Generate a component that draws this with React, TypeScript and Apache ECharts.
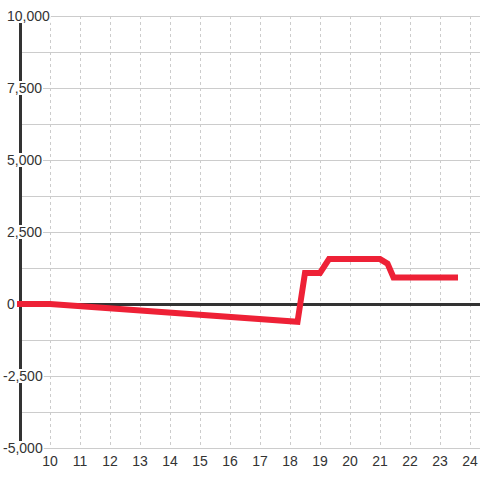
import React, { useEffect, useRef } from "react";
import * as echarts from "echarts";

const xValues = [9, 10, 18.25, 18.5, 19.0, 19.3, 21.0, 21.25, 21.45, 23.5];
const yValues = [0, 0, -620, 1080, 1080, 1560, 1560, 1400, 920, 920];
const yTickValues = [-5000, -2500, 0, 2500, 5000, 7500, 10000];
const xTickValues = [10, 11, 12, 13, 14, 15, 16, 17, 18, 19, 20, 21, 22, 23, 24];

const FONT = "'Liberation Sans', Arial, sans-serif";
const GRID = "#cccccc";
const DARK = "#333333";
const RED = "#ee2136";

const fmt = (v: number) => v.toLocaleString("en-US");

export default function App() {
  const ref = useRef<HTMLDivElement>(null);
  useEffect(() => {
    if (!ref.current) return;
    const chart = echarts.init(ref.current, null, { renderer: "svg" });
    const data = xValues.map((x, i) => [x, yValues[i]]);
    const xMin = 9;
    const xMax = 24 + 1 / 3;
    chart.setOption({
      animation: false,
      backgroundColor: "#ffffff",
      grid: { left: 20, right: 0, top: 16, bottom: 32, containLabel: false, outerBoundsMode: "none" },
      xAxis: [
        {
          type: "value",
          min: xMin,
          max: xMax,
          interval: 1,
          position: "bottom",
          axisLine: { show: false, onZero: false },
          axisTick: { show: false },
          axisLabel: {
            show: true,
            margin: 6,
            color: DARK,
            fontSize: 14,
            fontFamily: FONT,
            showMinLabel: false,
            showMaxLabel: false,
            formatter: (v: number) => (xTickValues.includes(v) ? String(v) : ""),
          },
          splitLine: {
            show: true,
            showMinLine: false,
            showMaxLine: false,
            lineStyle: { color: GRID, width: 1, type: [3, 3] },
          },
        },
        {
          type: "value",
          min: xMin,
          max: xMax,
          interval: 1,
          position: "bottom",
          axisLine: { show: true, onZero: true, lineStyle: { color: DARK, width: 3 } },
          axisTick: { show: false },
          axisLabel: { show: false },
          splitLine: { show: false },
        },
      ],
      yAxis: [
        {
          type: "value",
          min: -5000,
          max: 10000,
          interval: 1250,
          position: "left",
          axisLine: { show: true, onZero: false, lineStyle: { color: DARK, width: 3 } },
          axisTick: { show: false },
          axisLabel: {
            show: true,
            align: "left",
            margin: 13,
            color: DARK,
            fontSize: 14,
            fontFamily: FONT,
            backgroundColor: "#ffffff",
            padding: [0, 1, 0, 0],
            showMinLabel: true,
            showMaxLabel: true,
            formatter: (v: number) => (yTickValues.includes(v) && v >= 0 ? fmt(v) : ""),
          },
          splitLine: { show: true, lineStyle: { color: GRID, width: 1, type: "solid" } },
        },
        {
          type: "value",
          min: -5000,
          max: 10000,
          interval: 1250,
          position: "left",
          z: 1,
          axisLine: { show: false, onZero: false },
          axisTick: { show: false },
          axisLabel: {
            show: true,
            align: "left",
            margin: 17,
            color: DARK,
            fontSize: 14,
            fontFamily: FONT,
            backgroundColor: "#ffffff",
            padding: [0, 1, 0, 0],
            showMinLabel: true,
            showMaxLabel: true,
            formatter: (v: number) => (yTickValues.includes(v) && v < 0 ? fmt(v) : ""),
          },
          splitLine: { show: false },
        },
      ],
      series: [
        {
          type: "line",
          xAxisIndex: 0,
          yAxisIndex: 0,
          data,
          showSymbol: false,
          symbol: "none",
          clip: false,
          z: 5,
          lineStyle: { color: RED, width: 6, cap: "square", join: "miter" },
        },
      ],
    });
    return () => chart.dispose();
  }, []);
  return (
    <div
      ref={ref}
      style={{ position: "fixed", left: 0, top: 0, width: 480, height: 480 }}
    />
  );
}
